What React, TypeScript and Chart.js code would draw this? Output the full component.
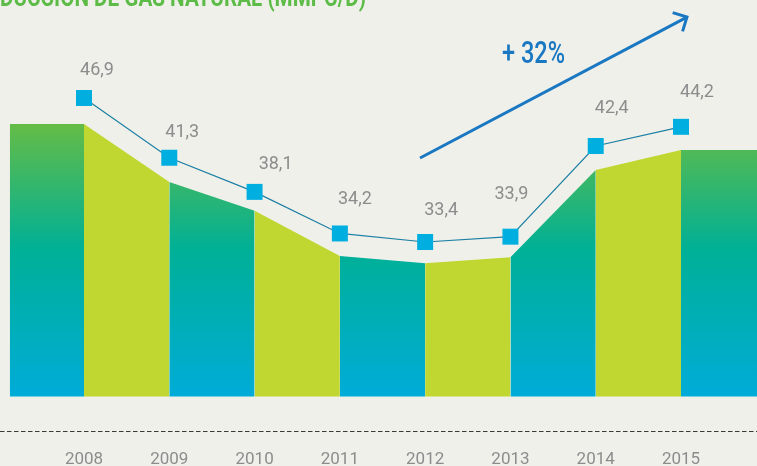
import React, { useEffect, useRef } from "react";
import { Chart, registerables } from "chart.js";

Chart.register(...registerables);

// ---- data ----
const years = [2008, 2009, 2010, 2011, 2012, 2013, 2014, 2015];
const yearLabels = ["2008", "2009", "2010", "2011", "2012", "2013", "2014", "2015"];
const production = [46.9, 41.3, 38.1, 34.2, 33.4, 33.9, 42.4, 44.2];
const valueLabels = ["46,9", "41,3", "38,1", "34,2", "33,4", "33,9", "42,4", "44,2"];
// decorative area under the line (one level per year)
const areaLevels = [44.46, 39.03, 36.33, 32.09, 31.4, 31.97, 40.15, 42.03];
const areaStartYear = 2007.13;
const areaBase = 18.92;
const growthLabel = "+ 32%";
const titleText = "PRODUCCIÓN DE GAS NATURAL (MMPC/D)";
const titleVisible = "DUCCIÓN DE GAS NATURAL (MMPC/D)";

// ---- axis ranges / annotation anchors (data units) ----
const X_MIN = 2007.015;
const X_MAX = 2015.891;
const Y_MIN = 15.68;
const Y_MAX = 56.09;
const arrowFrom = { x: 2011.94, y: 41.28 };
const arrowTo = { x: 2015.07, y: 54.49 };
const growthAnchor = { x: 2013.27, y: 50.18 };

// label nudges (pixels) per point
const labelNudge = [
  [13, -28], [13, -25], [21, -27], [15, -34],
  [16, -32], [1, -42], [16, -38], [16, -34],
];

const BG = "#f0f0eb";
const LIME = "#bfd730";
const MARKER = "#00aedf";
const LINE = "#1b7fa3";
const BLUE = "#1a78c2";
const GREY = "#8c8c8c";
const TITLE_GREEN = "#5dbc47";

function gradientFill(context: any) {
  const chart = context.chart;
  if (!chart.chartArea) return "#00b09b";
  const ys = chart.scales.y;
  const top = ys.getPixelForValue(areaLevels[0]);
  const bottom = ys.getPixelForValue(areaBase);
  const g = chart.ctx.createLinearGradient(0, top, 0, bottom);
  g.addColorStop(0, "#64bc46");
  g.addColorStop(0.46, "#00b096");
  g.addColorStop(1, "#00acd8");
  return g;
}

const edges = [areaStartYear, ...years, X_MAX];
const levels = [areaLevels[0], ...areaLevels, areaLevels[areaLevels.length - 1]];

const bandDatasets = edges.slice(0, -1).map((x0, i) => ({
  type: "line" as const,
  data: [
    { x: x0, y: levels[i] },
    { x: edges[i + 1], y: levels[i + 1] },
  ],
  borderWidth: 0,
  borderColor: "rgba(0,0,0,0)",
  pointRadius: 0,
  backgroundColor: i % 2 === 0 ? gradientFill : LIME,
  fill: { value: areaBase },
  order: 1,
  tension: 0,
}));

const annotations = {
  id: "annotations",
  afterDraw(chart: any) {
    const { ctx, chartArea, scales } = chart;
    const xs = scales.x;
    const ys = scales.y;
    ctx.save();

    // dashed baseline
    ctx.strokeStyle = "#3a3a3a";
    ctx.lineWidth = 1;
    ctx.setLineDash([4.5, 2.5]);
    ctx.beginPath();
    ctx.moveTo(chartArea.left, Math.round(chartArea.bottom) + 0.5);
    ctx.lineTo(chartArea.right, Math.round(chartArea.bottom) + 0.5);
    ctx.stroke();
    ctx.setLineDash([]);

    // value labels
    const meta = chart.getDatasetMeta(0);
    ctx.fillStyle = GREY;
    ctx.font = "18px Roboto";
    ctx.textAlign = "center";
    ctx.textBaseline = "middle";
    meta.data.forEach((pt: any, i: number) => {
      const [dx, dy] = labelNudge[i];
      ctx.fillText(valueLabels[i], pt.x + dx, pt.y + dy);
    });

    // growth arrow
    const x1 = xs.getPixelForValue(arrowFrom.x);
    const y1 = ys.getPixelForValue(arrowFrom.y);
    const x2 = xs.getPixelForValue(arrowTo.x);
    const y2 = ys.getPixelForValue(arrowTo.y);
    ctx.strokeStyle = BLUE;
    ctx.lineWidth = 3;
    ctx.lineCap = "butt";
    ctx.beginPath();
    ctx.moveTo(x1, y1);
    ctx.lineTo(x2, y2);
    ctx.stroke();
    const back = Math.atan2(y1 - y2, x1 - x2);
    const arm = 15;
    ctx.beginPath();
    ctx.moveTo(x2 + arm * Math.cos(back + Math.PI / 4), y2 + arm * Math.sin(back + Math.PI / 4));
    ctx.lineTo(x2, y2);
    ctx.lineTo(x2 + arm * Math.cos(back - Math.PI / 4), y2 + arm * Math.sin(back - Math.PI / 4));
    ctx.stroke();

    // growth text
    const gx = xs.getPixelForValue(growthAnchor.x);
    const gy = ys.getPixelForValue(growthAnchor.y);
    ctx.font = "500 32px Roboto";
    ctx.fillStyle = BLUE;
    ctx.textAlign = "center";
    ctx.textBaseline = "alphabetic";
    const gw = ctx.measureText(growthLabel).width;
    const gs = 63 / gw;
    ctx.save();
    ctx.translate(gx, gy);
    ctx.scale(gs, 1);
    ctx.fillText(growthLabel, 0, 0);
    ctx.restore();

    // title (partly cut at the top)
    ctx.font = "bold 25px Roboto";
    ctx.fillStyle = TITLE_GREEN;
    ctx.textAlign = "right";
    const vw = ctx.measureText(titleVisible).width;
    const ts = 366 / vw;
    ctx.save();
    ctx.translate(366, 6);
    ctx.scale(ts, 1);
    ctx.fillText(titleText, 0, 0);
    ctx.restore();

    ctx.restore();
  },
};

export default function App() {
  const ref = useRef<HTMLCanvasElement>(null);
  useEffect(() => {
    document.body.style.margin = "0";
    document.body.style.background = BG;
    const chart = new Chart(ref.current as HTMLCanvasElement, {
      type: "line",
      data: {
        datasets: [
          {
            type: "line",
            data: years.map((x, i) => ({ x, y: production[i] })),
            borderColor: LINE,
            borderWidth: 1.2,
            pointStyle: "rect",
            pointRadius: 11.3,
            pointBackgroundColor: MARKER,
            pointBorderWidth: 0,
            pointBorderColor: MARKER,
            fill: false,
            tension: 0,
            order: 0,
            clip: false,
          },
          ...bandDatasets,
        ] as any,
      },
      options: {
        animation: false,
        responsive: false,
        maintainAspectRatio: false,
        layout: { padding: 0, autoPadding: false },
        plugins: {
          legend: { display: false },
          tooltip: { enabled: false },
          title: { display: false },
        },
        scales: {
          x: {
            type: "linear",
            min: X_MIN,
            max: X_MAX,
            afterBuildTicks: (axis: any) => {
              axis.ticks = years.map((v) => ({ value: v }));
            },
            afterFit: (axis: any) => {
              axis.height = 35;
            },
            grid: { display: false, drawTicks: false },
            border: { display: false },
            ticks: {
              autoSkip: false,
              maxRotation: 0,
              padding: 19,
              color: GREY,
              font: { family: "Roboto", size: 17 },
              callback: (_v: any, i: number) => yearLabels[i],
            },
          },
          y: {
            type: "linear",
            display: false,
            min: Y_MIN,
            max: Y_MAX,
          },
        },
      } as any,
      plugins: [annotations],
    });
    return () => chart.destroy();
  }, []);
  return (
    <div style={{ width: 757, height: 466, background: BG }}>
      <canvas ref={ref} width={757} height={466} style={{ display: "block" }} />
    </div>
  );
}
